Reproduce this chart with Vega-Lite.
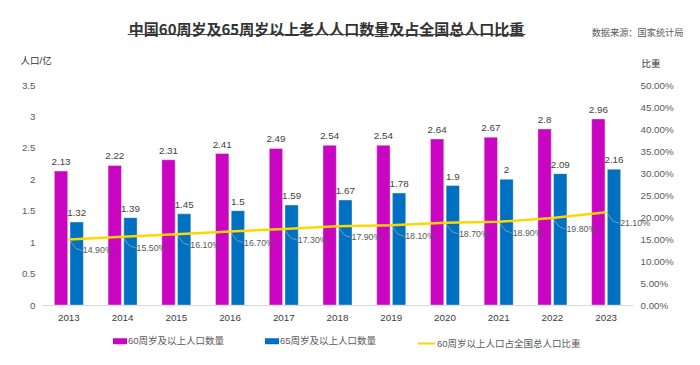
{
  "$schema": "https://vega.github.io/schema/vega-lite/v6.json",
  "width": 591,
  "height": 220,
  "autosize": {"type": "none"},
  "padding": {"left": 42, "top": 85, "right": 67, "bottom": 60},
  "background": "#ffffff",
  "config": {
    "font": "Liberation Sans, Noto Sans CJK SC, sans-serif",
    "view": {"stroke": null},
    "axis": {"grid": false, "ticks": false, "labelColor": "#595959", "labelFontSize": 9.8, "titleFontWeight": "normal", "titleColor": "#333333", "titleFontSize": 9.5}
  },
  "title": {
    "text": "中国60周岁及65周岁以上老人人口数量及占全国总人口比重",
    "subtitle": "──────────────────────────────────────────────────────────────────",
    "subtitleFont": "DejaVu Sans Mono",
    "subtitleFontSize": 10,
    "subtitleColor": "#333333",
    "subtitlePadding": -8,
    "font": "Noto Sans CJK SC",
    "fontSize": 15,
    "fontWeight": "bold",
    "color": "#333333",
    "anchor": "middle",
    "dx": -11,
    "dy": 16
  },
  "datasets": {
    "bars": [
      {"year": "2013", "series": "60周岁及以上人口数量", "value": 2.13},
      {"year": "2013", "series": "65周岁及以上人口数量", "value": 1.32},
      {"year": "2014", "series": "60周岁及以上人口数量", "value": 2.22},
      {"year": "2014", "series": "65周岁及以上人口数量", "value": 1.39},
      {"year": "2015", "series": "60周岁及以上人口数量", "value": 2.31},
      {"year": "2015", "series": "65周岁及以上人口数量", "value": 1.45},
      {"year": "2016", "series": "60周岁及以上人口数量", "value": 2.41},
      {"year": "2016", "series": "65周岁及以上人口数量", "value": 1.5},
      {"year": "2017", "series": "60周岁及以上人口数量", "value": 2.49},
      {"year": "2017", "series": "65周岁及以上人口数量", "value": 1.59},
      {"year": "2018", "series": "60周岁及以上人口数量", "value": 2.54},
      {"year": "2018", "series": "65周岁及以上人口数量", "value": 1.67},
      {"year": "2019", "series": "60周岁及以上人口数量", "value": 2.54},
      {"year": "2019", "series": "65周岁及以上人口数量", "value": 1.78},
      {"year": "2020", "series": "60周岁及以上人口数量", "value": 2.64},
      {"year": "2020", "series": "65周岁及以上人口数量", "value": 1.9},
      {"year": "2021", "series": "60周岁及以上人口数量", "value": 2.67},
      {"year": "2021", "series": "65周岁及以上人口数量", "value": 2},
      {"year": "2022", "series": "60周岁及以上人口数量", "value": 2.8},
      {"year": "2022", "series": "65周岁及以上人口数量", "value": 2.09},
      {"year": "2023", "series": "60周岁及以上人口数量", "value": 2.96},
      {"year": "2023", "series": "65周岁及以上人口数量", "value": 2.16}
    ],
    "ratio": [
      {"year": "2013", "pct": 0.149},
      {"year": "2014", "pct": 0.155},
      {"year": "2015", "pct": 0.161},
      {"year": "2016", "pct": 0.167},
      {"year": "2017", "pct": 0.173},
      {"year": "2018", "pct": 0.179},
      {"year": "2019", "pct": 0.181},
      {"year": "2020", "pct": 0.187},
      {"year": "2021", "pct": 0.189},
      {"year": "2022", "pct": 0.198},
      {"year": "2023", "pct": 0.211}
    ]
  },
  "layer": [
    {
      "data": {"name": "bars"},
      "encoding": {
        "x": {"field": "year", "type": "nominal", "scale": {"paddingInner": 0.46, "paddingOuter": 0.23},
          "axis": {"title": null, "labelAngle": 0, "domainColor": "#d9d9d9", "labelPadding": 7, "labelColor": "#404040"}},
        "xOffset": {"field": "series", "type": "nominal", "scale": {"paddingInner": 0.15}},
        "y": {"field": "value", "type": "quantitative", "scale": {"domain": [0, 3.5]},
          "axis": {"values": [0, 0.5, 1, 1.5, 2, 2.5, 3, 3.5], "format": "~g", "domain": false, "title": "人口/亿", "titleAngle": 0, "titleAlign": "left", "titleBaseline": "middle", "titleX": -22, "titleY": -25, "labelPadding": 7}}
      },
      "layer": [
        {
          "mark": {"type": "bar", "stroke": "#ffffff", "strokeWidth": 0.6, "strokeOpacity": 0.6},
          "encoding": {
            "color": {"field": "series", "type": "nominal",
              "scale": {"domain": ["60周岁及以上人口数量", "65周岁及以上人口数量"], "range": ["#C905C1", "#0070C0"]},
              "legend": {"title": null, "orient": "none", "legendX": 71, "legendY": 249, "direction": "horizontal", "columnPadding": 40, "symbolType": "M-1,-0.43H1V0.43H-1Z", "symbolSize": 196, "symbolStrokeWidth": 0, "labelFontSize": 9.5, "labelColor": "#595959", "labelOffset": 1}}
          }
        },
        {
          "mark": {"type": "text", "baseline": "bottom", "dy": -4, "fontSize": 9.8, "color": "#404040"},
          "encoding": {"text": {"field": "value", "type": "quantitative", "format": "~g"}}
        }
      ]
    },
    {
      "data": {"name": "ratio"},
      "encoding": {
        "x": {"field": "year", "type": "nominal",
          "axis": {"orient": "top", "labels": false, "domain": false, "ticks": false, "title": "数据来源：国家统计局", "titleX": 641, "titleY": -53, "titleAlign": "right", "titleBaseline": "middle", "titleFontSize": 9.2, "titleColor": "#595959"}},
        "y": {"field": "pct", "type": "quantitative", "scale": {"domain": [0, 0.5]},
          "axis": {"orient": "right", "values": [0, 0.05, 0.1, 0.15, 0.2, 0.25, 0.3, 0.35, 0.4, 0.45, 0.5], "format": ".2%", "domain": false, "title": "比重", "titleAngle": 0, "titleAlign": "left", "titleBaseline": "middle", "titleX": 8, "titleY": -22, "labelPadding": 7}}
      },
      "layer": [
        {
          "mark": {"type": "rule", "x2Offset": 7, "y2Offset": 9, "stroke": "#a6a6a6", "strokeWidth": 0.8},
          "encoding": {"x2": {"field": "year"}, "y2": {"field": "pct"}}
        },
        {
          "mark": {"type": "rule", "xOffset": 7, "yOffset": 9, "x2Offset": 13, "y2Offset": 11, "stroke": "#a6a6a6", "strokeWidth": 0.8},
          "encoding": {"x2": {"field": "year"}, "y2": {"field": "pct"}}
        },
        {
          "mark": {"type": "line", "strokeWidth": 2.5},
          "encoding": {
            "stroke": {"datum": "60周岁以上人口占全国总人口比重", "type": "nominal",
              "scale": {"range": ["#FFD700"]},
              "legend": {"title": null, "orient": "none", "legendX": 375, "legendY": 249, "symbolType": "stroke", "symbolSize": 289, "symbolStrokeWidth": 2, "labelFontSize": 9.5, "labelColor": "#595959", "labelOffset": 1}}
          }
        },
        {
          "mark": {"type": "text", "align": "left", "baseline": "middle", "dx": 14, "dy": 11, "fontSize": 8.8, "color": "#595959"},
          "encoding": {"text": {"field": "pct", "type": "quantitative", "format": ".2%"}}
        }
      ]
    }
  ],
  "resolve": {"scale": {"y": "independent"}, "axis": {"x": "independent"}}
}
